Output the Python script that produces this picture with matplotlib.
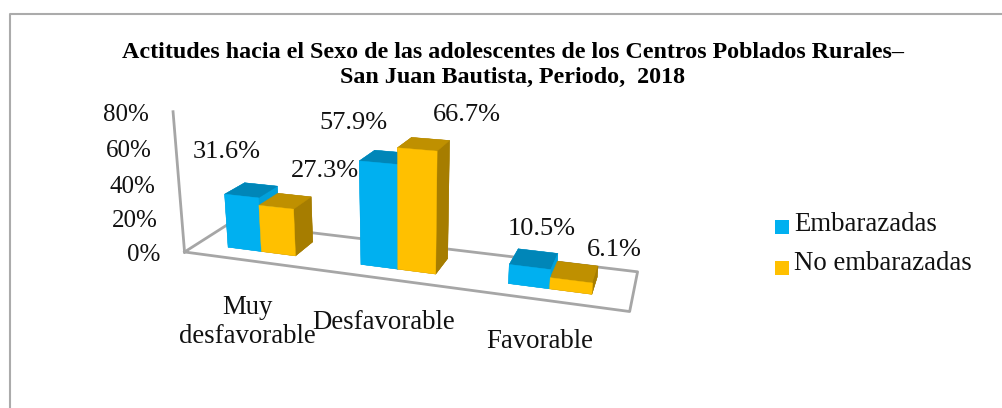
import matplotlib
matplotlib.use("Agg")
import matplotlib.pyplot as plt
import numpy as np
from matplotlib.patches import Rectangle
from matplotlib.lines import Line2D
from mpl_toolkits.mplot3d import proj3d

plt.rcParams['font.family'] = ['Liberation Serif', 'DejaVu Serif']

categories = ["Muy\ndesfavorable", "Desfavorable", "Favorable"]
embarazadas = [31.6, 57.9, 10.5]
no_embarazadas = [27.3, 66.7, 6.1]
z_ticks = [0, 20, 40, 60, 80]

BLUE = ("#00B0F0", "#0086B8", "#00A0DA")
GOLD = ("#FFC000", "#BF9000", "#A67D00")
GREY = "#A6A6A6"
W, H = 1002, 408
BAR_Y, BAR_DEPTH = 0.28, 0.45
BAR_W = 0.26

# label offsets from the top of each bar, in pixels
emb_offsets = [(-15, 44), (-26, 40), (11, 38)]
noemb_offsets = [(49, 36), (50, 34), (44, 30)]
cat_offsets = [(-2, -61), (-5, -43), (-5, -41)]


def bar_colors(colors):
    # face order of bar3d: bottom, top, front, back, left, right
    front, top, side = colors
    return [side, top, front, side, side, side]


def draw_frame(ax):
    ax.plot([0, 3, 3, 0, 0], [0, 0, 1, 1, 0], [0, 0, 0, 0, 0], color=GREY, lw=2, zorder=1)
    ax.plot([0, 0], [0, 0], [0, 80], color=GREY, lw=2, zorder=1)


def draw_bars(ax):
    xs, ys, heights, colors = [], [], [], []
    for i in range(len(categories)):
        xs += [i + 0.5 - BAR_W, i + 0.5]
        ys += [BAR_Y, BAR_Y]
        heights += [embarazadas[i], no_embarazadas[i]]
        colors += bar_colors(BLUE) + bar_colors(GOLD)
    n = len(xs)
    ax.bar3d(xs, ys, np.zeros(n), np.full(n, BAR_W), np.full(n, BAR_DEPTH), heights,
             color=colors, edgecolor=colors, linewidth=0.3, shade=False, zorder=2)


def label_at(ax, x, y, z, text, offset, **kw):
    px, py, _ = proj3d.proj_transform(x, y, z, ax.get_proj())
    ax.annotate(text, (px, py), xytext=offset, textcoords="offset pixels",
                ha=kw.pop("ha", "center"), va="center", color="#111111", **kw)


fig = plt.figure(figsize=(W / 100, H / 100), dpi=100)
fig.patch.set_facecolor("white")

# chart border, open on the right and at the bottom
fig.add_artist(Line2D([10 / W, 10 / W, 1], [0, 1 - 14 / H, 1 - 14 / H], transform=fig.transFigure,
                      color="#ABABAB", lw=1.5))

side = 1000
cx, cy = 391, 205
ax = fig.add_axes([(cx - side / 2) / W, (H - cy - side / 2) / H, side / W, side / H], projection="3d")
ax.patch.set_alpha(0)
ax.set_axis_off()
ax.computed_zorder = False
ax.set_proj_type("persp", focal_length=0.16)
ax.view_init(elev=17.5, azim=-71.5)
ax.set_box_aspect((470, 99, 155), zoom=0.477)
ax.set_xlim(0, 3)
ax.set_ylim(0, 1)
ax.set_zlim(0, 80)

draw_frame(ax)
draw_bars(ax)

for z in z_ticks:
    label_at(ax, 0, 0, z, f"{z}%", (-24, -3), ha="right", fontsize=18)

for i, cat in enumerate(categories):
    label_at(ax, i + 0.5, 0, 0, cat, cat_offsets[i], fontsize=19.3, linespacing=1.2)
    label_at(ax, i + 0.375, BAR_Y, embarazadas[i], f"{embarazadas[i]}%", emb_offsets[i], fontsize=19)
    label_at(ax, i + 0.625, BAR_Y, no_embarazadas[i], f"{no_embarazadas[i]}%", noemb_offsets[i], fontsize=19)

fig.text(513 / W, 1 - 65 / H, "Actitudes hacia el Sexo de las adolescentes de los Centros Poblados Rurales\u2013\n"
         "San Juan Bautista, Periodo,  2018", ha="center", va="center", fontsize=17.3, fontweight="bold",
         linespacing=1.24)

# legend
fig.add_artist(Rectangle((775 / W, 1 - 234 / H), 14 / W, 14 / H, transform=fig.transFigure, fc=BLUE[0], ec="none"))
fig.add_artist(Rectangle((775 / W, 1 - 275 / H), 14 / W, 14 / H, transform=fig.transFigure, fc=GOLD[0], ec="none"))
fig.text(794 / W, 1 - 224 / H, "Embarazadas", ha="left", va="center", fontsize=19.3, color="#111111")
fig.text(794 / W, 1 - 264 / H, "No embarazadas", ha="left", va="center", fontsize=19.3, color="#111111")

fig.savefig("out.png", dpi=100)
